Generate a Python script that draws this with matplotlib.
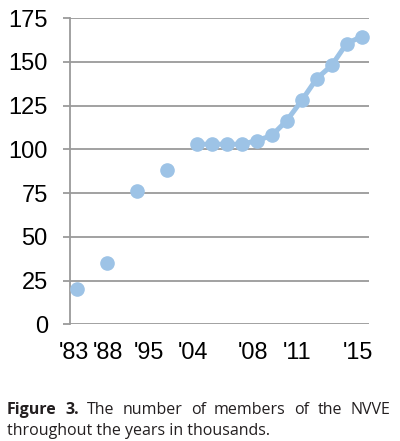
import numpy as np
import matplotlib.pyplot as plt

# members of the NVVE, in thousands (empty slots are gaps on the category axis)
slots = ["'83", "", "'88", "", "'95", "", "'00", "", "'04", "'05", "'06",
         "'07", "'08", "'09", "'10", "'11", "'12", "'13", "'14", "'15"]
members = [20, np.nan, 35, np.nan, 76, np.nan, 88, np.nan, 103, 103, 103,
           103, 105, 108, 116.5, 128, 140.5, 148, 160.5, 164.5]
tick_labels = ["'83", "'88", "'95", "'04", "'08", "'11", "'15"]
tick_pos = [-0.25, 2.05, 4.75, 7.75, 11.75, 14.7, 18.75]
y_ticks = [0, 25, 50, 75, 100, 125, 150, 175]

blue = '#9dc3e6'
grey = '#9a9a9a'

fig = plt.figure(figsize=(4, 4.41), dpi=100)
ax = fig.add_axes([0.175, 0.2646, 0.7475, 0.694])

x = np.arange(len(slots))
ax.plot(x, members, color=blue, lw=3.6, marker='o', ms=9.5,
        solid_capstyle='round', zorder=3)

ax.set_xlim(-0.5, 19.5)
ax.set_ylim(0, 175)
ax.set_yticks(y_ticks)
ax.set_xticks(tick_pos)
ax.set_xticklabels(tick_labels)
ax.yaxis.grid(True, color=grey, lw=1.3)
ax.set_axisbelow(True)
for s in ['top', 'right', 'bottom']:
    ax.spines[s].set_visible(False)
ax.spines['left'].set_color(grey)
ax.spines['left'].set_linewidth(1.3)
ax.tick_params(axis='y', length=5, width=1.3, color=grey, pad=11,
               labelsize=17, labelcolor='black')
ax.tick_params(axis='x', length=0, pad=12, labelsize=16.8, labelcolor='black')
for lab in ax.get_xticklabels() + ax.get_yticklabels():
    lab.set_fontfamily('Liberation Sans')

# caption, first line justified between the margins
cap_font = 'Open Sans'
cap_size = 11.5
left_px, right_px = 7, 390
words = [('Figure', 'bold'), ('3.', 'bold'), ('The', 'normal'), ('number', 'normal'),
         ('of', 'normal'), ('members', 'normal'), ('of', 'normal'), ('the', 'normal'),
         ('NVVE', 'normal')]
W, H = fig.get_size_inches() * fig.dpi
y1 = 1 - 414 / H
arts = [fig.text(0, y1, w, fontsize=cap_size, fontweight=wt, family=cap_font,
                 color='#231f20', va='baseline') for w, wt in words]
fig.canvas.draw()
r = fig.canvas.get_renderer()
widths = [a.get_window_extent(r).width for a in arts]
gap = (right_px - left_px - sum(widths)) / (len(arts) - 1)
pos = left_px
for a, w in zip(arts, widths):
    a.set_x(pos / W)
    pos += w + gap
fig.text(left_px / W, 1 - 435 / H, 'throughout the years in thousands.',
         fontsize=cap_size, family=cap_font, color='#231f20', va='baseline')

fig.savefig('out.png', dpi=100)
